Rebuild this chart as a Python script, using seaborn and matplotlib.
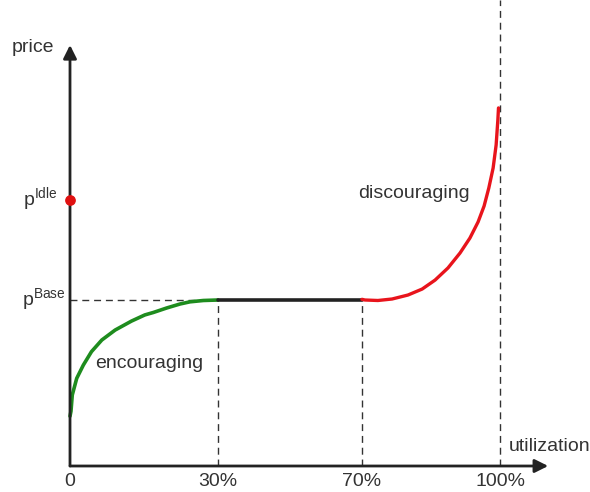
import matplotlib
matplotlib.use("Agg")
import matplotlib.pyplot as plt
import seaborn as sns

sns.set_style("white")
plt.rcParams['font.family'] = ['Liberation Sans', 'DejaVu Sans']

# schematic utilization positions (axis units) and tick labels
tick_pos = [0.0, 0.344, 0.679, 1.0]
tick_labels = ["0", "30%", "70%", "100%"]

# price levels (pBase = 1)
p_base = 1.0
p_idle = 1.602

# encouraging curve
enc_x = [0.0, 0.0023, 0.0053, 0.0156, 0.031, 0.050, 0.074, 0.105, 0.143, 0.174,
         0.194, 0.225, 0.256, 0.279, 0.310, 0.344]
enc_y = [0.30, 0.33, 0.428, 0.528, 0.608, 0.689, 0.759, 0.819, 0.873, 0.910,
         0.925, 0.952, 0.976, 0.989, 0.997, 1.0]

# flat segment
flat_x = [0.344, 0.679]
flat_y = [1.0, 1.0]

# discouraging curve
dis_x = [0.679, 0.686, 0.716, 0.749, 0.786, 0.819, 0.849, 0.879, 0.907, 0.930,
         0.949, 0.963, 0.974, 0.984, 0.991, 0.995, 0.9965]
dis_y = [1.004, 1.0, 0.997, 1.006, 1.030, 1.066, 1.120, 1.193, 1.283, 1.373,
         1.470, 1.566, 1.675, 1.795, 1.934, 2.084, 2.157]

fig = plt.figure(figsize=(5.9, 4.92), dpi=100)
ax = fig.add_axes([0, 0, 1, 1])
ax.set_xlim(-70/430, 520/430)
ax.set_ylim(-26/166, 466/166)
ax.axis('off')

txt = '#333333'
axc = '#222222'
dash_kw = dict(color='#333333', lw=1.0, ls=(0, (5, 3.5)))

# dashed guides
ax.plot([0, tick_pos[1]], [p_base, p_base], **dash_kw)
ax.plot([tick_pos[1], tick_pos[1]], [0, p_base], **dash_kw)
ax.plot([tick_pos[2], tick_pos[2]], [0, p_base], **dash_kw)
ax.plot([tick_pos[3], tick_pos[3]], [0, 466/166], **dash_kw)

# curves
sns.lineplot(x=enc_x, y=enc_y, ax=ax, color='#1e8c1e', lw=2.6, sort=False)
sns.lineplot(x=flat_x, y=flat_y, ax=ax, color='#222222', lw=2.6, sort=False)
sns.lineplot(x=dis_x, y=dis_y, ax=ax, color='#e8141c', lw=2.4, sort=False)

# axes with arrows
ax.annotate('', xy=(1.112, 0), xytext=(0, 0),
            arrowprops=dict(arrowstyle='-|>', lw=2, color=axc, mutation_scale=20,
                            shrinkA=0, shrinkB=0))
ax.annotate('', xy=(0, 2.536), xytext=(0, 0),
            arrowprops=dict(arrowstyle='-|>', lw=2, color=axc, mutation_scale=20,
                            shrinkA=0, shrinkB=0))

# idle price point
ax.scatter([0], [p_idle], s=45, color='#e01010', zorder=5)

fs = 14
for p, l in zip(tick_pos, tick_labels):
    ax.text(p, -0.045, l, ha='center', va='top', fontsize=fs, color=txt)

ax.text(-0.135, 2.52, 'price', ha='left', va='center', fontsize=fs, color=txt)
ax.text(1.02, 0.12, 'utilization', ha='left', va='center', fontsize=fs, color=txt)
ax.text(-0.03, p_idle, r'p$^{\mathregular{Idle}}$', ha='right', va='center', fontsize=fs, color=txt)
ax.text(-0.01, p_base, r'p$^{\mathregular{Base}}$', ha='right', va='center', fontsize=fs, color=txt)
ax.text(0.058, 0.62, 'encouraging', ha='left', va='center', fontsize=fs, color=txt)
ax.text(0.67, 1.64, 'discouraging', ha='left', va='center', fontsize=fs, color=txt)

fig.savefig('out.png', dpi=100)
